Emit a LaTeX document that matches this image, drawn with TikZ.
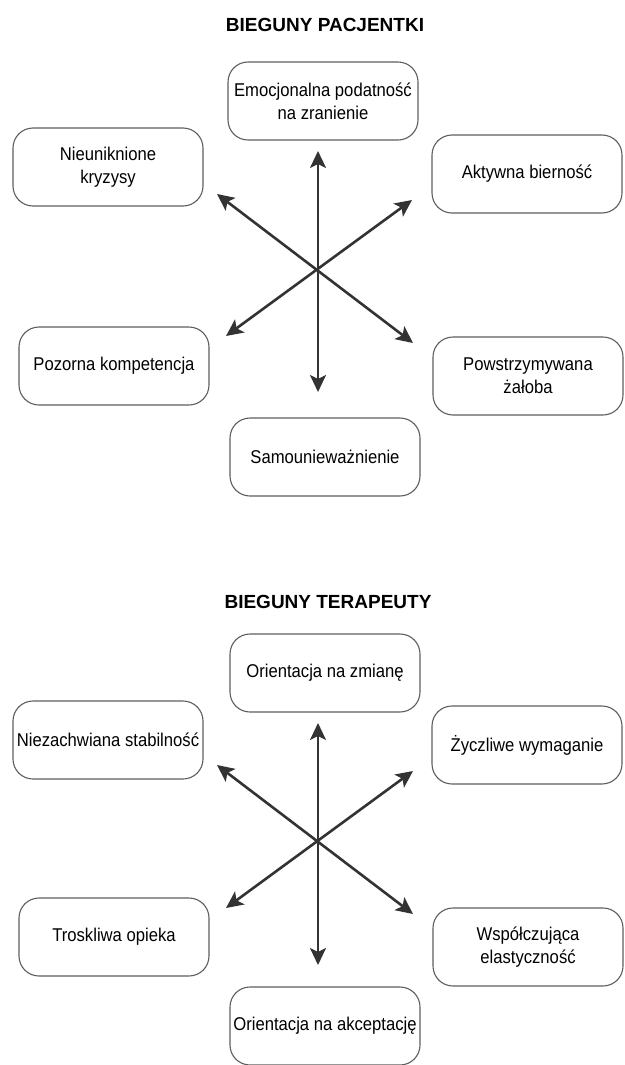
\documentclass[tikz,border=0pt]{standalone}
\usepackage{fontspec}
\setmainfont{Liberation Sans}
\newfontfamily\boxfont[FakeStretch=0.9]{Liberation Sans}
\usepackage{xcolor}
\usepackage{tikz}
\usetikzlibrary{positioning,arrows.meta}
\definecolor{boxline}{HTML}{5E5E5E}
\definecolor{arrowline}{HTML}{333333}

\begin{document}
\begin{tikzpicture}[x=1pt,y=-1pt,
        pole/.style={draw=boxline,line width=1.1pt,rounded corners=20pt,
                     minimum width=190pt,minimum height=78pt,align=center,
                     inner sep=2pt,font=\fontsize{18.5}{23}\boxfont},
        axis/.style={draw=arrowline,line width=2.6pt,
                     {Stealth[length=17pt,width=16pt,inset=4pt]}-{Stealth[length=17pt,width=16pt,inset=4pt]}},
        heading/.style={font=\fontsize{19}{22}\selectfont\bfseries}]
        \useasboundingbox (0,0) rectangle (624,1065);
        % patient poles
        \node[heading] (tp) at (325,25) {BIEGUNY PACJENTKI};
        \foreach \n/\x/\y/\lbl in {emo/323/101/{Emocjonalna podatność\\na zranienie},
                                   nieu/108/167/{Nieuniknione\\kryzysy},
                                   akty/527/174/{Aktywna bierność},
                                   pozo/114/366/{Pozorna kompetencja},
                                   powst/528/376/{Powstrzymywana\\żałoba},
                                   samo/325/457/{Samounieważnienie}}{
          \node[pole] (\n) at (\x,\y) {\lbl};
        }
        \coordinate (pu) at (318,151);
        \coordinate (pd) at (318,392);
        \coordinate (pul) at (217,194);
        \coordinate (plr) at (413,343);
        \coordinate (pll) at (226,336);
        \coordinate (pur) at (412,200);
        \draw[axis] (pu)--(pd);
        \draw[axis] (pul)--(plr);
        \draw[axis] (pll)--(pur);
        % therapist poles
        \node[heading] (tt) at (328,602) {BIEGUNY TERAPEUTY};
        \foreach \n/\x/\y/\lbl in {zmia/325/673/{Orientacja na zmianę},
                                   niez/108/740/{Niezachwiana stabilność},
                                   zycz/527/745/{Życzliwe wymaganie},
                                   tros/114/937/{Troskliwa opieka},
                                   wspo/528/947/{Współczująca\\elastyczność},
                                   akce/325/1026/{Orientacja na akceptację}}{
          \node[pole] (\n) at (\x,\y) {\lbl};
        }
        \coordinate (tu) at (318,723);
        \coordinate (td) at (318,965);
        \coordinate (tul) at (217,765);
        \coordinate (tlr) at (413,914);
        \coordinate (tll) at (226,908);
        \coordinate (tur) at (413,771);
        \draw[axis] (tu)--(td);
        \draw[axis] (tul)--(tlr);
        \draw[axis] (tll)--(tur);
      \end{tikzpicture}
\end{document}
